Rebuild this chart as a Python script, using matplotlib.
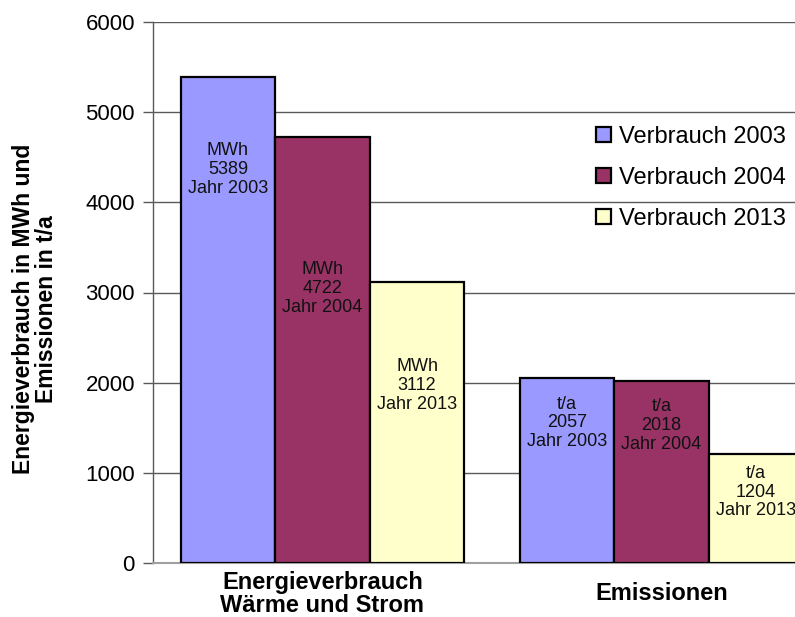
import matplotlib
matplotlib.use("Agg")
import matplotlib.pyplot as plt
import numpy as np

# --- data ---
categories = ["Energieverbrauch\nWärme und Strom", "Emissionen"]
series_names = ["Verbrauch 2003", "Verbrauch 2004", "Verbrauch 2013"]
years = ["2003", "2004", "2013"]
units = ["MWh", "t/a"]
verbrauch_2003 = [5389, 2057]
verbrauch_2004 = [4722, 2018]
verbrauch_2013 = [3112, 1204]
y_ticks = [0, 1000, 2000, 3000, 4000, 5000, 6000]

# --- style / layout ---
colors = ["#9999FF", "#993366", "#FFFFCC"]
# vertical anchor of each value label, as a fraction of its bar height
label_frac = [[0.809, 0.755], [0.644, 0.758], [0.634, 0.654]]
font = "Liberation Sans"

W, H = 795, 617
fig = plt.figure(figsize=(W / 100, H / 100), dpi=100)
ax = fig.add_axes([153 / W, 54 / H, 678 / W, 541 / H])

series = [verbrauch_2003, verbrauch_2004, verbrauch_2013]
x = np.arange(len(categories))
bw = 0.279
offsets = [-bw, 0.0, bw]

for s, (vals, name, col, off) in enumerate(zip(series, series_names, colors, offsets)):
    ax.bar(x + off, vals, width=bw, color=col, edgecolor="black",
           linewidth=1.6, label=name, zorder=3)
    for c, v in enumerate(vals):
        ax.text(x[c] + off, v * label_frac[s][c],
                f"{units[c]}\n{v}\nJahr {years[s]}",
                ha="center", va="center", fontsize=13, family=font,
                color="#111111", linespacing=1.15, zorder=4)

ax.set_xlim(-0.5, 1.5)
ax.set_ylim(0, 6000)
ax.set_yticks(y_ticks)
ax.set_yticklabels([str(t) for t in y_ticks], family=font, fontsize=16)
ax.yaxis.grid(True, color="#5a5a5a", linewidth=1.0, zorder=0)
ax.set_axisbelow(True)

ax.set_xticks(x)
ax.set_xticklabels(categories, family=font, fontsize=17, fontweight="bold",
                   linespacing=1.0)
for lbl in ax.get_xticklabels():
    lbl.set_verticalalignment("center")
ax.tick_params(axis="x", length=0, pad=22)
ax.tick_params(axis="y", length=7, width=1.0, color="#5a5a5a", pad=6)

for side in ["top", "right"]:
    ax.spines[side].set_visible(False)
ax.spines["left"].set_color("#5a5a5a")
ax.spines["left"].set_linewidth(1.0)
ax.spines["bottom"].set_color("#a0a0a0")
ax.spines["bottom"].set_linewidth(1.5)

ax.set_ylabel("Energieverbrauch in MWh und\nEmissionen in t/a", family=font,
              fontsize=16.5, fontweight="bold", linespacing=1.0)
ax.yaxis.set_label_coords(-0.14, 0.47)

leg = ax.legend(loc="upper left", bbox_to_anchor=(0.64, 0.826), frameon=False,
                prop={"family": font, "size": 17}, handlelength=0.6,
                handleheight=0.6, handletextpad=0.35, labelspacing=0.82,
                borderaxespad=0)
for p in leg.get_patches():
    p.set_linewidth(1.6)

fig.savefig("out.png", dpi=100)
